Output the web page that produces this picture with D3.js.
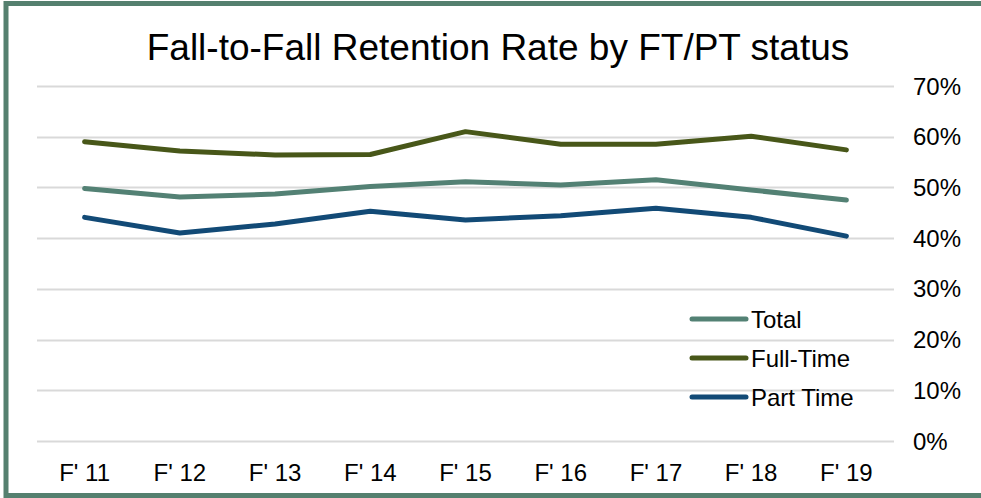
<!DOCTYPE html>
<html>
<head>
<meta charset="utf-8">
<script src="https://cdn.jsdelivr.net/npm/d3@7"></script>
<style>
  body { margin: 0; background: #fff; }
  svg { display: block; font-family: Arial, "Liberation Sans", sans-serif; }
</style>
</head>
<body>
<div id="chart"></div>
<script>
const width = 981,
  height = 498;

const years = ["F' 11", "F' 12", "F' 13", "F' 14", "F' 15", "F' 16", "F' 17", "F' 18", "F' 19"];
const total = [49.8, 48.1, 48.7, 50.2, 51.1, 50.5, 51.5, 49.5, 47.5];
const fullTime = [59.0, 57.2, 56.4, 56.5, 61.0, 58.5, 58.5, 60.1, 57.4];
const partTime = [44.1, 41.0, 42.8, 45.3, 43.6, 44.4, 45.9, 44.1, 40.4];
const yTicks = [0, 10, 20, 30, 40, 50, 60, 70];

const series = [
  { name: 'Total', values: total, color: '#538174' },
  { name: 'Full-Time', values: fullTime, color: '#485719' },
  { name: 'Part Time', values: partTime, color: '#124a76' }
];

const svg = d3.select('#chart').append('svg')
  .attr('width', width)
  .attr('height', height);

// frame
svg.append('rect')
  .attr('x', 6)
  .attr('y', 3.5)
  .attr('width', 990)
  .attr('height', 492)
  .attr('fill', '#fff')
  .attr('stroke', '#55806f')
  .attr('stroke-width', 5);

svg.append('text')
  .attr('x', 498)
  .attr('y', 60)
  .attr('text-anchor', 'middle')
  .style('font-size', '37px')
  .style('fill', '#000')
  .text('Fall-to-Fall Retention Rate by FT/PT status');

const x = d3.scalePoint()
  .domain(years)
  .range([37, 894])
  .padding(0.5);

const y = d3.scaleLinear()
  .domain([0, 70])
  .range([441, 86]);

// gridlines
svg.append('g')
  .selectAll('line')
  .data(yTicks)
  .enter()
  .append('line')
  .attr('x1', 37)
  .attr('x2', 894)
  .attr('y1', d => Math.round(y(d)) + 0.5)
  .attr('y2', d => Math.round(y(d)) + 0.5)
  .attr('stroke', '#d9d9d9')
  .attr('stroke-width', 2);

// y labels
svg.append('g')
  .selectAll('text')
  .data(yTicks)
  .enter()
  .append('text')
  .attr('x', 913)
  .attr('y', d => y(d))
  .attr('dy', '0.36em')
  .style('font-size', '24px')
  .text(d => d + '%');

// x labels
svg.append('g')
  .selectAll('text')
  .data(years)
  .enter()
  .append('text')
  .attr('x', d => x(d))
  .attr('y', 472)
  .attr('dy', '0.36em')
  .attr('text-anchor', 'middle')
  .style('font-size', '24px')
  .text(d => d);

const line = d3.line()
  .x((d, i) => x(years[i]))
  .y(d => y(d));

svg.append('g')
  .selectAll('path')
  .data(series)
  .enter()
  .append('path')
  .attr('d', d => line(d.values))
  .attr('fill', 'none')
  .attr('stroke', d => d.color)
  .attr('stroke-width', 5)
  .attr('stroke-linecap', 'round')
  .attr('stroke-linejoin', 'round');

// legend
const legend = svg.append('g')
  .selectAll('g')
  .data(series)
  .enter()
  .append('g')
  .attr('transform', (d, i) => 'translate(692,' + (319 + i * 39) + ')');

legend.append('line')
  .attr('x1', 0)
  .attr('x2', 54)
  .attr('stroke', d => d.color)
  .attr('stroke-width', 5)
  .attr('stroke-linecap', 'round');

legend.append('text')
  .attr('x', 59)
  .attr('dy', '0.36em')
  .style('font-size', '24px')
  .text(d => d.name);
</script>
</body>
</html>
